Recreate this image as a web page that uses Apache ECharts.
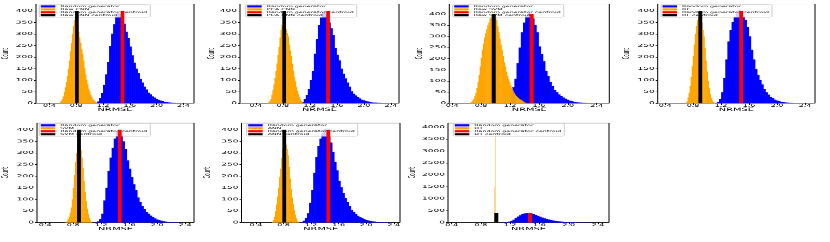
<!DOCTYPE html>
<html><head><meta charset="utf-8">
<script src="https://cdn.jsdelivr.net/npm/echarts@6/dist/echarts.min.js"></script>
<style>
html,body{margin:0;padding:0;background:#fff;overflow:hidden;width:830px;height:242px;}
#wrap{width:830px;height:242px;overflow:hidden;}
#c{width:830px;height:576px;transform:scaleY(0.4201389);transform-origin:0 0;}
</style></head><body><div id="wrap"><div id="c"></div></div>
<script>
// ---------------- DATA ----------------
const panelModels = ['Raw CNN', 'PCA CNN', 'Raw SVM', 'RF', 'SVM', 'ANN', 'DT'];
const xTickLabels = [0.4, 0.8, 1.2, 1.6, 2.0, 2.4];
const yTicksSmall = [0, 50, 100, 150, 200, 250, 300, 350, 400];
const yTicksLarge = [0, 500, 1000, 1500, 2000, 2500, 3000, 3500, 4000];
const xMin = [0.20, 0.166, 0.36, 0.294, 0.283, 0.19, 0.35];
const xMax = [2.557, 2.52, 2.574, 2.543, 2.527, 2.49, 2.55];
const yMax = [430, 430, 445, 430, 429, 429, 4175];

// Random generator histograms (bin width RG_BIN_W)
const RG_BIN_W = 0.03;
const rgStart = [1.08, 1.05, 1.08, 1.11, 1.11, 1.05, 1.08];
const rgCounts1 = [2, 8, 22, 45, 80, 125, 178, 248, 302, 342, 376, 392, 386, 362, 345, 310, 282, 246, 208, 176, 150, 131, 106, 90, 72, 60, 46, 39, 30, 25, 19, 15, 12, 9, 7, 5, 4, 3, 2, 2, 1, 1, 1, 0, 1];
const rgCounts2 = [2, 6, 18, 36, 62, 100, 140, 215, 278, 340, 372, 394, 398, 382, 350, 325, 295, 240, 210, 186, 150, 128, 108, 90, 72, 52, 42, 34, 27, 21, 16, 13, 10, 8, 6, 4, 3, 3, 2, 2, 1, 1, 0, 1];
const rgCounts3 = [2, 5, 12, 25, 45, 72, 110, 180, 250, 318, 362, 392, 405, 398, 380, 352, 318, 255, 222, 188, 145, 122, 96, 78, 60, 50, 40, 32, 26, 21, 16, 12, 9, 7, 5, 4, 3, 2, 2, 1, 1, 1, 0, 1];
const rgCounts4 = [2, 6, 18, 48, 110, 190, 268, 318, 352, 375, 395, 405, 392, 380, 362, 330, 290, 232, 190, 148, 122, 100, 82, 62, 48, 38, 28, 22, 16, 12, 9, 7, 6, 4, 3, 2, 2, 1, 1];
const rgCounts5 = [1, 5, 15, 38, 95, 150, 222, 280, 322, 362, 390, 398, 382, 350, 318, 268, 232, 195, 165, 140, 108, 88, 70, 58, 46, 38, 30, 23, 18, 13, 10, 8, 6, 4, 3, 2, 2, 1, 1, 1];
const rgCounts6 = [2, 8, 20, 40, 85, 140, 215, 282, 330, 362, 385, 402, 390, 372, 345, 305, 262, 225, 180, 152, 128, 105, 88, 70, 55, 45, 37, 29, 24, 19, 15, 11, 9, 7, 5, 4, 3, 2, 2, 1, 1, 1];
const rgCounts7 = [2, 6, 16, 35, 70, 120, 185, 250, 305, 350, 380, 398, 395, 375, 345, 318, 282, 245, 210, 178, 150, 125, 102, 85, 68, 55, 44, 35, 28, 22, 17, 13, 10, 8, 6, 4, 3, 2, 2, 1, 1];

// Model histograms
const modelBinW = [0.015, 0.015, 0.015, 0.015, 0.015, 0.015, 0.006];
const modelStart = [0.54, 0.57, 0.63, 0.69, 0.69, 0.63, 0.986];
const mCounts1 = [2, 5, 10, 18, 30, 50, 70, 92, 118, 150, 185, 225, 262, 300, 335, 360, 378, 370, 345, 310, 285, 262, 236, 215, 185, 152, 125, 102, 82, 64, 52, 38, 28, 20, 14, 9, 6, 3, 1];
const mCounts2 = [2, 5, 10, 20, 38, 58, 82, 110, 140, 172, 210, 245, 285, 318, 338, 352, 348, 335, 320, 305, 290, 255, 228, 205, 172, 142, 115, 95, 72, 55, 40, 28, 17, 9, 4, 1];
const mCounts3 = [1, 3, 6, 12, 20, 32, 48, 68, 95, 128, 165, 205, 240, 268, 295, 315, 332, 350, 362, 380, 398, 412, 418, 405, 388, 372, 345, 318, 290, 262, 240, 212, 185, 165, 142, 122, 108, 95, 80, 68, 57, 48, 40, 34, 29, 24, 20, 17, 14, 10, 7, 4, 2];
const mCounts4 = [2, 8, 25, 45, 75, 115, 160, 205, 255, 300, 335, 362, 378, 382, 372, 350, 318, 290, 238, 185, 138, 98, 65, 40, 22, 12, 5, 2];
const mCounts5 = [2, 6, 14, 25, 42, 65, 100, 150, 205, 262, 300, 325, 338, 330, 312, 280, 235, 180, 132, 92, 60, 38, 20, 9, 3];
const mCounts6 = [3, 10, 25, 48, 78, 112, 150, 195, 232, 278, 318, 338, 342, 336, 318, 290, 240, 190, 145, 108, 80, 55, 34, 18, 8, 3];
const mCounts7 = [1500, 3950];

// Centroids
const rgCentroid = [1.49, 1.47, 1.50, 1.487, 1.466, 1.45, 1.47];
const rgCentroidH = [400, 400, 400, 400, 400, 400, 400];
const modelCentroid = [0.81, 0.82, 0.975, 0.903, 0.883, 0.81, 1.01];
const modelCentroidH = [400, 400, 400, 400, 400, 400, 400];

const rgCounts = [rgCounts1, rgCounts2, rgCounts3, rgCounts4, rgCounts5, rgCounts6, rgCounts7];
const modelCounts = [mCounts1, mCounts2, mCounts3, mCounts4, mCounts5, mCounts6, mCounts7];

// ---------------- LAYOUT / STYLE ----------------
const S = 242 / 576;               // vertical squash of the whole figure
const V = v => v / S;              // real px -> chart px (vertical)
const FONT = 'DejaVu Sans';
const BLUE = '#0000ff', ORANGE = '#ffa500', RED = '#ff0000', BLACK = '#000000';
const CW = 0.055;                  // centroid bar width (data units)
const boxes = [
  {l: 35,    w: 159,   t: 4,   b: 103.3, leg: 39.3,  gap: 26},
  {l: 240,   w: 159,   t: 4,   b: 103.3, leg: 245.7, gap: 24},
  {l: 449.3, w: 160,   t: 4,   b: 103.3, leg: 452.7, gap: 25},
  {l: 657.7, w: 157.3, t: 4,   b: 103.3, leg: 661,   gap: 27},
  {l: 35,    w: 159,   t: 123, b: 222.5, leg: 39.3,  gap: 27},
  {l: 241.5, w: 158.5, t: 123, b: 222.5, leg: 246.7, gap: 29},
  {l: 448,   w: 161,   t: 123, b: 222.5, leg: 453.3, gap: 30.5}
];

function bins(start, w, counts) {
  return counts.map((c, k) => [+(start + k * w).toFixed(4), +(start + (k + 1) * w).toFixed(4), c]);
}
function rectRender(color, overlap) {
  return function (params, api) {
    const p0 = api.coord([api.value(0), api.value(2)]);
    const p1 = api.coord([api.value(1), 0]);
    return {type: 'rect', shape: {x: p0[0], y: p0[1], width: p1[0] - p0[0] + overlap, height: p1[1] - p0[1]},
      style: {fill: color}};
  };
}

const grid = [], xAxis = [], yAxis = [], series = [], legend = [];
boxes.forEach((bx, i) => {
  grid.push({left: bx.l, top: V(bx.t), width: bx.w, height: V(bx.b - bx.t), show: true,
    borderColor: '#000', borderWidth: 1, backgroundColor: 'transparent'});
  xAxis.push({type: 'value', gridIndex: i, min: xMin[i], max: xMax[i],
    axisLine: {show: false}, splitLine: {show: false},
    axisTick: {show: true, customValues: xTickLabels, length: 4, lineStyle: {color: '#000'}},
    axisLabel: {customValues: xTickLabels, formatter: v => v.toFixed(1), fontSize: 8, fontFamily: FONT, color: '#000', margin: 2},
    name: 'NRMSE', nameLocation: 'middle', nameGap: 10,
    nameTextStyle: {fontSize: 9.8, fontFamily: FONT, color: '#000', verticalAlign: 'top'}});
  const yt = i === 6 ? yTicksLarge : yTicksSmall;
  yAxis.push({type: 'value', gridIndex: i, min: 0, max: yMax[i],
    axisLine: {show: false}, splitLine: {show: false},
    axisTick: {show: true, customValues: yt, length: 2, lineStyle: {color: '#000'}},
    axisLabel: {customValues: yt, formatter: v => String(Math.round(v)), fontSize: 9, fontFamily: FONT, color: '#000', margin: 3},
    name: 'Count', nameLocation: 'middle', nameGap: bx.gap,
    nameTextStyle: {fontSize: 9, fontFamily: FONT, color: '#000'}});
  const mName = panelModels[i];
  const names = ['Random generator', mName, 'Random generator centroid', mName + ' centroid'];
  const cols = [BLUE, ORANGE, RED, BLACK];
  series.push({type: 'custom', name: names[0], xAxisIndex: i, yAxisIndex: i, itemStyle: {color: BLUE},
    encode: {x: [0, 1], y: 2}, renderItem: rectRender(BLUE, 0.7), data: bins(rgStart[i], RG_BIN_W, rgCounts[i]), z: 2, silent: true});
  series.push({type: 'custom', name: names[1], xAxisIndex: i, yAxisIndex: i, itemStyle: {color: ORANGE},
    encode: {x: [0, 1], y: 2}, renderItem: rectRender(ORANGE, i === 6 ? 0 : 0.5), data: bins(modelStart[i], modelBinW[i], modelCounts[i]), z: 3, silent: true});
  series.push({type: 'custom', name: names[2], xAxisIndex: i, yAxisIndex: i, itemStyle: {color: RED},
    encode: {x: [0, 1], y: 2}, renderItem: rectRender(RED, 0),
    data: [[rgCentroid[i] - CW / 2, rgCentroid[i] + CW / 2, rgCentroidH[i]]], z: 4, silent: true});
  series.push({type: 'custom', name: names[3], xAxisIndex: i, yAxisIndex: i, itemStyle: {color: BLACK},
    encode: {x: [0, 1], y: 2}, renderItem: rectRender(BLACK, 0),
    data: [[modelCentroid[i] - CW / 2, modelCentroid[i] + CW / 2, modelCentroidH[i]]], z: 5, silent: true});
  legend.push({left: bx.leg, top: V(bx.t + 0.5), orient: 'vertical', selectedMode: false,
    data: names.map((n, k) => ({name: n, icon: 'rect', itemStyle: {color: cols[k]}})),
    itemWidth: 14.5, itemHeight: 5, itemGap: 1.1,
    textStyle: {fontSize: 6.3, fontFamily: FONT, color: '#000', lineHeight: 6},
    padding: [1.5, 3, 1.5, 1.5], backgroundColor: 'rgba(255,255,255,0.8)',
    borderColor: '#cccccc', borderWidth: 1, borderRadius: 2});
});

const chart = echarts.init(document.getElementById('c'), null, {renderer: 'canvas'});
chart.setOption({animation: false, backgroundColor: '#fff', grid, xAxis, yAxis, series, legend});
</script></body></html>
